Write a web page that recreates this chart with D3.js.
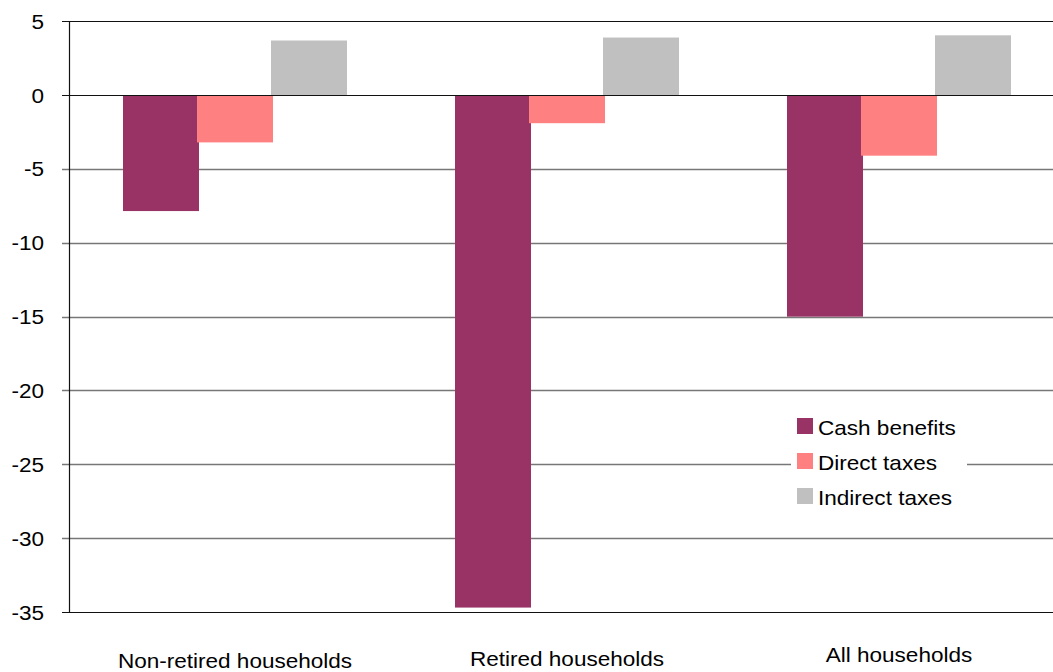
<!DOCTYPE html>
<html>
<head>
<meta charset="utf-8">
<script src="https://cdn.jsdelivr.net/npm/d3@7"></script>
<style>
  html, body { margin: 0; padding: 0; background: #fff; }
  svg { display: block; }
  text { font-family: Arial, "Liberation Sans", sans-serif; fill: #000; }
</style>
</head>
<body>
<svg id="chart" width="1053" height="672"></svg>
<script>
// Change in household income by source, percentage points
const categories = ["Non-retired households", "Retired households", "All households"];
const seriesNames = ["Cash benefits", "Direct taxes", "Indirect taxes"];
const cashBenefits = [-7.85, -34.7, -15.0];
const directTaxes = [-3.2, -1.9, -4.1];
const indirectTaxes = [3.7, 3.9, 4.05];
const yTicks = [5, 0, -5, -10, -15, -20, -25, -30, -35];
const seriesColors = ["#993366", "#FF8080", "#C0C0C0"];

const seriesValues = [cashBenefits, directTaxes, indirectTaxes];

const svg = d3.select("#chart");
const W = 1053;
const plotLeft = 69, plotTop = 21.3, plotBottom = 612;
const fontSize = 20.5, stretch = 1.1;

const x = d3.scaleBand().domain(categories).range([plotLeft, plotLeft + 3 * 332]);
const xSub = d3.scaleBand().domain(seriesNames).range([54, 276]);
const y = d3.scaleLinear().domain([-35, 5]).range([plotBottom, plotTop]);

// gridlines
const grid = svg.append("g");
yTicks.forEach(t => {
  const edge = (t === 5 || t === 0 || t === -35);
  grid.append("line")
    .attr("x1", plotLeft - 7).attr("x2", W)
    .attr("y1", Math.round(y(t)) + 0.5).attr("y2", Math.round(y(t)) + 0.5)
    .attr("stroke", edge ? "#111" : "#777")
    .attr("stroke-width", edge ? 1.2 : 1.4);
});

// y axis labels
yTicks.forEach(t => {
  svg.append("text")
    .attr("transform", `translate(44,${y(t) + 7.5}) scale(${stretch},1)`)
    .attr("text-anchor", "end")
    .style("font-size", fontSize + "px")
    .text(t);
});

// bars
const bars = svg.append("g");
seriesNames.forEach((s, si) => {
  categories.forEach((c, ci) => {
    const v = seriesValues[si][ci];
    bars.append("rect")
      .attr("x", x(c) + xSub(s))
      .attr("width", xSub.step() + 2)
      .attr("y", y(Math.max(0, v)))
      .attr("height", Math.abs(y(v) - y(0)))
      .attr("fill", seriesColors[si]);
  });
});

// zero line redrawn on top of bars
svg.append("line")
  .attr("x1", plotLeft).attr("x2", W)
  .attr("y1", Math.round(y(0)) + 0.5).attr("y2", Math.round(y(0)) + 0.5)
  .attr("stroke", "#111").attr("stroke-width", 1.2);

// y axis line
svg.append("line")
  .attr("x1", plotLeft + 0.5).attr("x2", plotLeft + 0.5)
  .attr("y1", plotTop).attr("y2", plotBottom)
  .attr("stroke", "#111").attr("stroke-width", 1.2);

// category labels
const labelBase = [668, 666, 662];
categories.forEach((c, i) => {
  svg.append("text")
    .attr("transform", `translate(${x(c) + x.bandwidth() / 2},${labelBase[i]}) scale(${stretch},1)`)
    .attr("text-anchor", "middle")
    .style("font-size", fontSize + "px")
    .text(c);
});

// legend
const legend = svg.append("g");
legend.append("rect")
  .attr("x", 791).attr("y", 408).attr("width", 176).attr("height", 106)
  .attr("fill", "#fff");
const legendRows = [427, 462, 497];
seriesNames.forEach((s, i) => {
  legend.append("rect")
    .attr("x", 797).attr("y", legendRows[i] - 9)
    .attr("width", 16).attr("height", 16)
    .attr("fill", seriesColors[i]);
  legend.append("text")
    .attr("transform", `translate(818,${legendRows[i] + 8}) scale(${stretch},1)`)
    .style("font-size", fontSize + "px")
    .text(s);
});
</script>
</body>
</html>
